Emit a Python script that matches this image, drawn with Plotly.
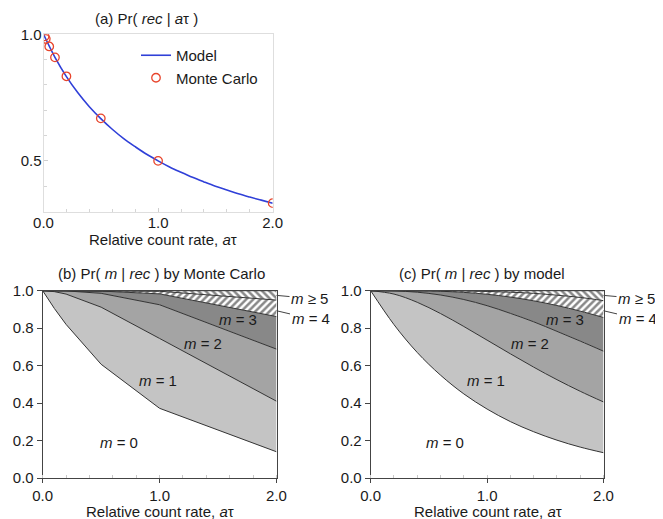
import plotly.graph_objects as go

# ---------------- data ----------------
# (a) Pr(rec | a tau)
model_rate = [0.0, 0.1, 0.2, 0.3, 0.4, 0.5, 0.6, 0.7, 0.8, 0.9, 1.0,
              1.1, 1.2, 1.3, 1.4, 1.5, 1.6, 1.7, 1.8, 1.9, 2.0]
model_prec = [1.000, 0.909, 0.833, 0.769, 0.714, 0.667, 0.625, 0.588, 0.556, 0.526, 0.500,
              0.476, 0.455, 0.435, 0.417, 0.400, 0.385, 0.370, 0.357, 0.345, 0.333]
mc_rate_a = [0.01, 0.02, 0.05, 0.1, 0.2, 0.5, 1.0, 2.0]
mc_prec_a = [0.992, 0.982, 0.952, 0.909, 0.834, 0.668, 0.500, 0.333]

# (b) Pr(m | rec) by Monte Carlo : cumulative boundaries m<=0 .. m<=4
mc_rate = [0.0, 0.05, 0.1, 0.2, 0.5, 1.0, 2.0]
mc_cum0 = [1.0, 0.951, 0.905, 0.820, 0.607, 0.372, 0.140]
mc_cum1 = [1.0, 0.999, 0.995, 0.982, 0.912, 0.745, 0.410]
mc_cum2 = [1.0, 1.000, 1.000, 0.999, 0.986, 0.925, 0.688]
mc_cum3 = [1.0, 1.000, 1.000, 1.000, 0.998, 0.983, 0.862]
mc_cum4 = [1.0, 1.000, 1.000, 1.000, 1.000, 0.997, 0.950]
mc_top = [1.0] * len(mc_rate)

# (c) Pr(m | rec) by model : cumulative boundaries
md_rate = [0.0, 0.2, 0.4, 0.6, 0.8, 1.0, 1.2, 1.4, 1.6, 1.8, 2.0]
md_cum0 = [1.0, 0.819, 0.670, 0.549, 0.449, 0.368, 0.301, 0.247, 0.202, 0.165, 0.135]
md_cum1 = [1.0, 0.982, 0.938, 0.878, 0.809, 0.736, 0.663, 0.592, 0.525, 0.463, 0.406]
md_cum2 = [1.0, 0.999, 0.992, 0.977, 0.953, 0.920, 0.879, 0.834, 0.783, 0.731, 0.677]
md_cum3 = [1.0, 1.000, 0.999, 0.997, 0.991, 0.981, 0.966, 0.946, 0.921, 0.891, 0.857]
md_cum4 = [1.0, 1.000, 1.000, 1.000, 0.999, 0.996, 0.992, 0.986, 0.976, 0.964, 0.947]
md_top = [1.0] * len(md_rate)

region_labels = ["<i>m</i> = 0", "<i>m</i> = 1", "<i>m</i> = 2", "<i>m</i> = 3"]
label_x_b = [0.65, 0.99, 1.37, 1.67]
label_y_b = [0.19, 0.52, 0.72, 0.845]
label_x_c = [0.64, 0.99, 1.37, 1.67]
label_y_c = [0.19, 0.52, 0.72, 0.845]

FONT = "Liberation Sans, Arial, sans-serif"
TXT = "#1a1a1a"
EDGE = "#333333"
FILL1, FILL2, FILL3 = "#c4c4c4", "#a4a4a4", "#888888"

# page offset (default body margin) -> figure size that fills the window
OFF = 8
W, H = 663 - OFF, 519 - OFF


def px(X):
    return (X - OFF) / W


def py(Y):
    return 1 - (Y - OFF) / H


fig = go.Figure()

# ---------------- panel (a) ----------------
fig.add_trace(go.Scatter(x=model_rate, y=model_prec, mode="lines", name="Model",
                         line=dict(color="#3040d8", width=1.6, shape="spline"),
                         xaxis="x", yaxis="y"))
fig.add_trace(go.Scatter(x=mc_rate_a, y=mc_prec_a, mode="markers", name="Monte Carlo",
                         marker=dict(symbol="circle-open", size=8.5, color="#e8452c",
                                     line=dict(width=1.3, color="#e8452c")),
                         xaxis="x", yaxis="y"))


def stack(xs, bounds, xa, ya, shape):
    fills = [None, FILL1, FILL2, FILL3, "pat1", "pat2"]
    for i, ys in enumerate(bounds):
        kw = dict(x=xs, y=ys, mode="lines", showlegend=False, hoverinfo="skip",
                  line=dict(color=EDGE, width=1, shape=shape), xaxis=xa, yaxis=ya)
        f = fills[i]
        if f is None:
            pass
        elif f == "pat1":
            kw.update(fill="tonexty", fillcolor="white",
                      fillpattern=dict(shape="/", fgcolor="#111111", bgcolor="white",
                                       size=5, solidity=0.5))
        elif f == "pat2":
            kw.update(fill="tonexty", fillcolor="white",
                      fillpattern=dict(shape="\\", fgcolor="#111111", bgcolor="white",
                                       size=5, solidity=0.5))
        else:
            kw.update(fill="tonexty", fillcolor=f)
        fig.add_trace(go.Scatter(**kw))


stack(mc_rate, [mc_cum0, mc_cum1, mc_cum2, mc_cum3, mc_cum4, mc_top], "x2", "y2", "linear")
stack(md_rate, [md_cum0, md_cum1, md_cum2, md_cum3, md_cum4, md_top], "x3", "y3", "spline")

tickfont = dict(family=FONT, size=15, color=TXT)

light_axis = dict(showline=True, linecolor="#dedede", linewidth=1, mirror=True,
                  showgrid=False, zeroline=False, ticks="inside", ticklen=4,
                  tickcolor="#cfcfcf", tickfont=tickfont, automargin=False)
fig.update_layout(
    xaxis=dict(domain=[px(43.5), px(272.7)], range=[0, 2], tickvals=[0, 1, 2],
               ticktext=["0.0", "1.0", "2.0"], ticklabelstandoff=-3,
               minor=dict(dtick=0.2, ticks="inside", ticklen=3, tickcolor="#d5d5d5"),
               anchor="y", **light_axis),
    yaxis=dict(domain=[py(211.5), py(34.3)], range=[0.3, 1.0], tickvals=[0.5, 1.0],
               ticktext=["0.5", "1.0"], ticklabelstandoff=-2,
               minor=dict(dtick=0.1, ticks="inside", ticklen=3, tickcolor="#d5d5d5"),
               anchor="x", **light_axis),
)

dark_x = dict(showline=True, linecolor="#444444", linewidth=1, mirror=True,
              showgrid=False, zeroline=False, ticks="outside", ticklen=4,
              tickcolor="#444444", range=[0, 2], tickvals=[0, 1, 2],
              ticktext=["0.0", "1.0", "2.0"], tickfont=tickfont, automargin=False,
              minor=dict(dtick=0.2, ticks="inside", ticklen=3, tickcolor="#c8c8c8"))
dark_y = dict(showline=True, linecolor="#444444", linewidth=1, mirror=True,
              showgrid=False, zeroline=False, ticks="outside", ticklen=5,
              tickcolor="#444444", range=[0, 1], dtick=0.2, tickformat=".1f",
              tickfont=tickfont, automargin=False)
fig.update_layout(
    xaxis2=dict(domain=[px(42.7), px(276.5)], anchor="y2", **dark_x),
    yaxis2=dict(domain=[py(478), py(290.7)], anchor="x2", **dark_y),
    xaxis3=dict(domain=[px(370.7), px(603.5)], anchor="y3", **dark_x),
    yaxis3=dict(domain=[py(478), py(290.7)], anchor="x3", **dark_y),
)

ann = []
tf = dict(family=FONT, size=15, color=TXT)
C = dict(xanchor="center", yanchor="middle", showarrow=False, font=tf)
# titles
ann.append(dict(text="(a) Pr( <i>rec</i> | <i>a</i>τ )", x=px(146), y=py(18),
                xref="paper", yref="paper", **C))
ann.append(dict(text="(b) Pr( <i>m</i> | <i>rec</i> ) by Monte Carlo", x=px(161),
                y=py(273), xref="paper", yref="paper", **C))
ann.append(dict(text="(c) Pr( <i>m</i> | <i>rec</i> ) by model", x=px(482),
                y=py(273), xref="paper", yref="paper", **C))
# x axis titles
for xc, yc in [(163, 239), (160, 511.5), (487.5, 511.5)]:
    ann.append(dict(text="Relative count rate, <i>a</i>τ", x=px(xc), y=py(yc),
                    xref="paper", yref="paper", **C))
# region labels
for t, x, y in zip(region_labels, label_x_b, label_y_b):
    ann.append(dict(text=t, x=x, y=y, xref="x2", yref="y2", **C))
for t, x, y in zip(region_labels, label_x_c, label_y_c):
    ann.append(dict(text=t, x=x, y=y, xref="x3", yref="y3", **C))
# leader labels m>=5 and m=4
for xa, ya in [("x2", "y2"), ("x3", "y3")]:
    ann.append(dict(text="<i>m</i> ≥ 5", x=2.0, y=0.975, xref=xa, yref=ya,
                    showarrow=True, arrowhead=0, arrowwidth=1, arrowcolor="#444",
                    ax=33, ay=3, standoff=0, font=tf))
    ann.append(dict(text="<i>m</i> = 4", x=2.0, y=0.893, xref=xa, yref=ya,
                    showarrow=True, arrowhead=0, arrowwidth=1, arrowcolor="#444",
                    ax=34, ay=8, standoff=0, font=tf))

fig.update_layout(
    annotations=ann,
    width=W, height=H,
    margin=dict(l=0, r=0, t=0, b=0, pad=0, autoexpand=False),
    paper_bgcolor="white", plot_bgcolor="white",
    font=dict(family=FONT, size=15, color=TXT),
    showlegend=True,
    legend=dict(x=px(136), y=py(39), xanchor="left", yanchor="top",
                traceorder="normal",
                bgcolor="rgba(0,0,0,0)", font=dict(family=FONT, size=15, color=TXT),
                itemwidth=30),
)

fig.write_html("out.html")
